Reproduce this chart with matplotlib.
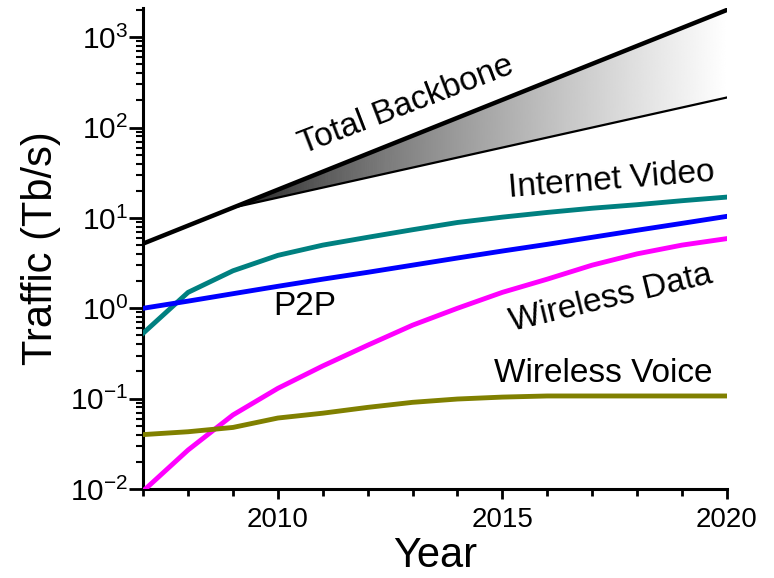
import numpy as np
import matplotlib
matplotlib.use("Agg")
import matplotlib.pyplot as plt
from matplotlib.ticker import FixedLocator, MultipleLocator, LogLocator, NullFormatter

plt.rcParams['font.family'] = ['Liberation Sans', 'DejaVu Sans']

# --- data (Tb/s) ---
years_backbone_hi = [2007, 2009, 2020]
backbone_hi = [5.2, 13.0, 2000]
years_backbone_lo = [2009, 2020]
backbone_lo = [13.0, 215]

years = [2007, 2008, 2009, 2010, 2011, 2012, 2013, 2014, 2015, 2016, 2017, 2018, 2019, 2020]
internet_video = [0.53, 1.5, 2.6, 3.85, 5.0, 6.1, 7.4, 8.9, 10.2, 11.5, 12.8, 14.0, 15.5, 17.0]
p2p = [1.0, 1.2, 1.45, 1.75, 2.1, 2.5, 3.0, 3.6, 4.3, 5.1, 6.1, 7.3, 8.7, 10.4]
wireless_data = [0.0095, 0.027, 0.066, 0.13, 0.23, 0.39, 0.65, 1.0, 1.5, 2.1, 3.0, 4.0, 5.0, 5.9]
wireless_voice = [0.040, 0.043, 0.048, 0.061, 0.069, 0.080, 0.091, 0.099, 0.104, 0.107, 0.107, 0.107, 0.107, 0.107]

fig = plt.figure(figsize=(7.74, 5.78), dpi=100)
ax = fig.add_axes([0.185, 0.154, 0.754, 0.832])
ax.set_yscale('log')
ax.set_xlim(2007, 2020)
ax.set_ylim(0.01, 2100)

# gradient wedge between the two backbone bounds
poly = ax.fill_between(years_backbone_lo, [backbone_hi[1], backbone_hi[2]], backbone_lo,
                       color='none', lw=0)
grad = np.linspace(0, 1, 512) ** 0.7
grad = 0.08 + 0.92 * grad
img = ax.imshow(grad.reshape(1, -1), cmap='gray', vmin=0, vmax=1, aspect='auto',
                extent=[2009, 2020, 0.01, 2100], interpolation='bicubic', zorder=1)
img.set_clip_path(poly.get_paths()[0], transform=ax.transData)

ax.plot(years_backbone_hi, backbone_hi, color='black', lw=3.2, zorder=3)
ax.plot(years_backbone_lo, backbone_lo, color='black', lw=1.6, zorder=3)

ax.plot(years, internet_video, color='#008080', lw=3.5, zorder=3)
ax.plot(years, p2p, color='#0000ff', lw=3.5, zorder=3)
ax.plot(years, wireless_data, color='#ff00ff', lw=3.5, zorder=3)
ax.plot(years, wireless_voice, color='#808000', lw=3.5, zorder=3)

# curve labels
ax.text(2012.87, 175, 'Total Backbone', fontsize=24, rotation=21, ha='center', va='center')
ax.text(2017.44, 26, 'Internet Video', fontsize=24, rotation=4.5, ha='center', va='center')
ax.text(2010.6, 1.05, 'P2P', fontsize=24, ha='center', va='center')
ax.text(2017.42, 1.29, 'Wireless Data', fontsize=24, rotation=13.5, ha='center', va='center')
ax.text(2017.24, 0.191, 'Wireless Voice', fontsize=24, ha='center', va='center')

ax.set_xlabel('Year', fontsize=30, labelpad=2)
ax.set_ylabel('Traffic (Tb/s)', fontsize=30, labelpad=6)

ax.xaxis.set_major_locator(FixedLocator([2010, 2015, 2020]))
ax.xaxis.set_minor_locator(MultipleLocator(1))
ax.yaxis.set_major_locator(LogLocator(base=10, numticks=10))
ax.yaxis.set_minor_locator(LogLocator(base=10, subs=np.arange(2, 10), numticks=20))
ax.yaxis.set_minor_formatter(NullFormatter())

ax.tick_params(axis='x', which='major', direction='out', length=7, width=2, labelsize=20, pad=6)
ax.tick_params(axis='x', which='minor', direction='out', length=5, width=2)
ax.tick_params(axis='y', which='major', direction='out', length=10, width=2, labelsize=21.5, pad=1)
ax.tick_params(axis='y', which='minor', direction='out', length=5, width=1.5)

for side in ('top', 'right'):
    ax.spines[side].set_visible(False)
for side in ('left', 'bottom'):
    ax.spines[side].set_linewidth(2.2)

fig.savefig('out.png', dpi=100)
